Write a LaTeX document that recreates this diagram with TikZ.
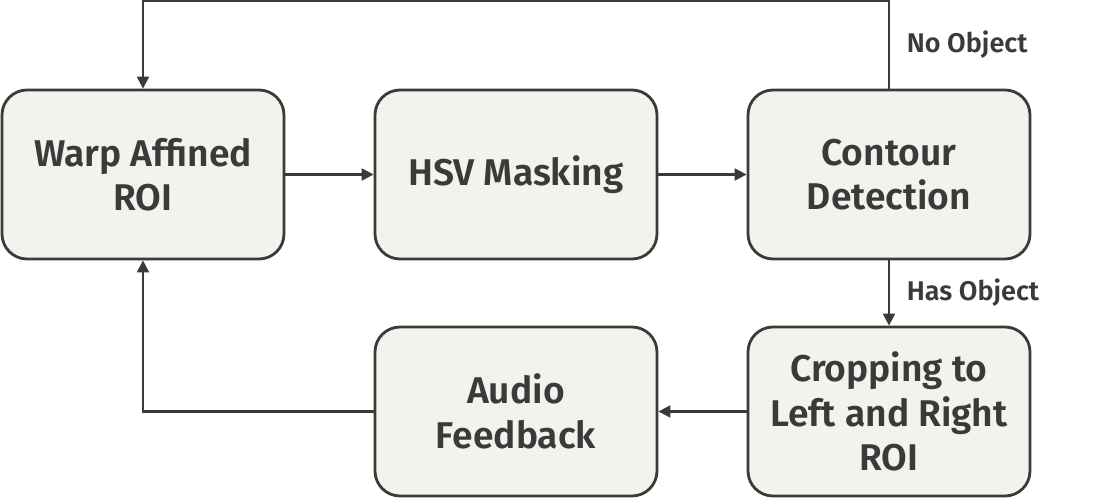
\documentclass[tikz,border=0pt]{standalone}
\usepackage{fontspec}
\setmainfont{Fira Sans}[BoldFont={Fira Sans SemiBold}]
\usetikzlibrary{positioning,arrows.meta}
\definecolor{boxfill}{HTML}{F3F3EE}
\definecolor{ink}{HTML}{3A3A3A}

\begin{document}
\begin{tikzpicture}[x=0.5pt,y=-0.5pt,node distance=118.5pt and 186.5pt,on grid,
  block/.style={rectangle,rounded corners=12.5pt,draw=ink,line width=1.4pt,fill=boxfill,
    minimum width=141pt,minimum height=84.5pt,align=center,text=ink,
    font=\bfseries\fontsize{18.6}{22.2}\selectfont},
  flow/.style={-{Triangle[length=6pt,width=6pt]},draw=ink,line width=1.1pt},
  tag/.style={right,xshift=5pt,text=ink,font=\bfseries\fontsize{13.5}{15}\selectfont}]
  \useasboundingbox (0,0) rectangle (1099,502);
  \node[block] (warp) at (143,174.5) {Warp Affined\\ROI};
  \node[block] (hsv) [right=of warp] {HSV Masking};
  \node[block] (contour) [right=of hsv] {Contour\\Detection};
  \node[block] (crop) [below=of contour] {Cropping to\\Left and Right\\ROI};
  \node[block] (audio) [below=of hsv] {Audio\\Feedback};
  \draw[flow] (warp) -- (hsv);
  \draw[flow] (hsv) -- (contour);
  \draw[flow] (contour.north) -- node[tag] {No Object} ++(0,-88) -| (warp.north);
  \draw[flow] (contour) -- node[tag] {Has Object} (crop);
  \draw[flow] (crop) -- (audio);
  \draw[flow] (audio.west) -| (warp.south);
\end{tikzpicture}
\end{document}
